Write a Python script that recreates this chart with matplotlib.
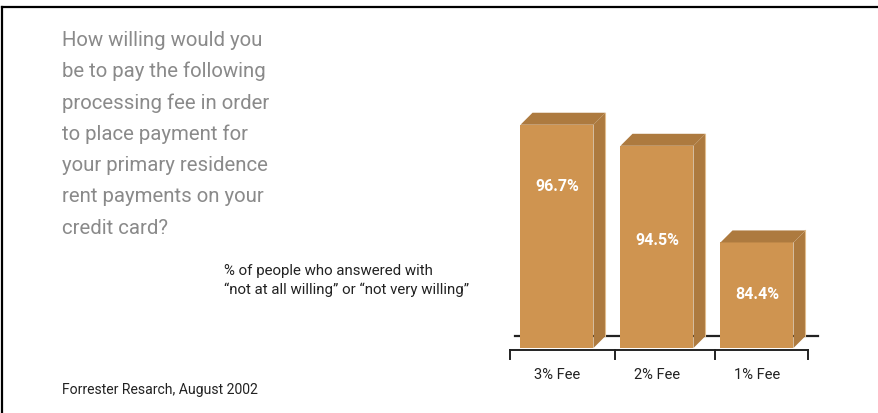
import matplotlib.pyplot as plt
from matplotlib.patches import Polygon

# Data
categories = ["3% Fee", "2% Fee", "1% Fee"]
values = [96.7, 94.5, 84.4]
value_labels = ["96.7%", "94.5%", "84.4%"]
label_drop = [6.3, 9.8, 5.3]  # how far below the bar top the value label sits

title_lines = ["How willing would you", "be to pay the following", "processing fee in order",
               "to place payment for", "your primary residence", "rent payments on your",
               "credit card?"]
note_lines = ["% of people who answered with", "\u201cnot at all willing\u201d or \u201cnot very willing\u201d"]
source = "Forrester Resarch, August 2002"

plt.rcParams['font.family'] = ["Roboto", "DejaVu Sans"]

front = "#CF9450"
dark = "#AD7A3F"
edge = "#E2BE8E"

W, H = 879, 414
fig = plt.figure(figsize=(W / 100, H / 100), dpi=100)

# frame lines (top and left)
fig.add_artist(plt.Line2D([2 / W, 1], [1 - 8 / H, 1 - 8 / H], color="black", lw=1.6))
fig.add_artist(plt.Line2D([2 / W, 2 / W], [0, 1 - 8 / H], color="black", lw=1.6))

# question text
for i, line in enumerate(title_lines):
    fig.text(62 / W, 1 - (46 + i * 31.3) / H, line, fontsize=14.7, color="#8A8A8A", va="baseline", ha="left")

for i, line in enumerate(note_lines):
    fig.text(224 / W, 1 - (275 + i * 19) / H, line, fontsize=10.8, color="#222222", va="baseline", ha="left")

fig.text(62 / W, 1 - 394 / H, source, fontsize=10.1, color="#222222", va="baseline", ha="left")

# bar chart area
base = 73.37
px_per_pct = 9.57
ax = fig.add_axes([505 / W, (H - 349) / H, 315 / W, 249 / H])
ax.set_xlim(-0.52, 2.63)
ax.set_ylim(base, base + 249 / px_per_pct)
ax.axis("off")

x = list(range(len(categories)))
width = 0.73
dx = 0.12
dy = 12 / px_per_pct

ax.bar(x, [v - base for v in values], bottom=base, width=width, color=front, zorder=3)

for xi, v in zip(x, values):
    xl = xi - width / 2
    xr = xi + width / 2
    side = Polygon([(xr, base), (xr, v), (xr + dx, v + dy), (xr + dx, base + dy)],
                   closed=True, facecolor=dark, edgecolor="none", zorder=3)
    top = Polygon([(xl, v), (xr, v), (xr + dx, v + dy), (xl + dx, v + dy)],
                  closed=True, facecolor=dark, edgecolor="none", zorder=3)
    ax.add_patch(side)
    ax.add_patch(top)
    ax.plot([xr + dx, xr + dx], [base + dy, v + dy], color=edge, lw=0.8, zorder=4)

# floor line behind the bars
ax.plot([-0.42, 2.61], [base + dy, base + dy], color="#222222", lw=1.6, zorder=1, clip_on=False)

# bracket under the categories
by = base - 2 / px_per_pct
bt = base - 11 / px_per_pct
ax.plot([-0.47, 2.51], [by, by], color="#222222", lw=1.4, clip_on=False)
for tx in [-0.47, 0.58, 1.58, 2.51]:
    ax.plot([tx, tx], [by, bt], color="#222222", lw=1.4, clip_on=False)

for xi, cat in zip(x, categories):
    ax.text(xi, base - 26 / px_per_pct, cat, ha="center", va="center", fontsize=10.5, color="#222222")

for xi, v, lab, d in zip(x, values, value_labels, label_drop):
    ax.text(xi, v - d, lab, ha="center", va="center", fontsize=11.5, fontweight="bold",
            color="white", zorder=5)

fig.savefig("out.png", dpi=100)
